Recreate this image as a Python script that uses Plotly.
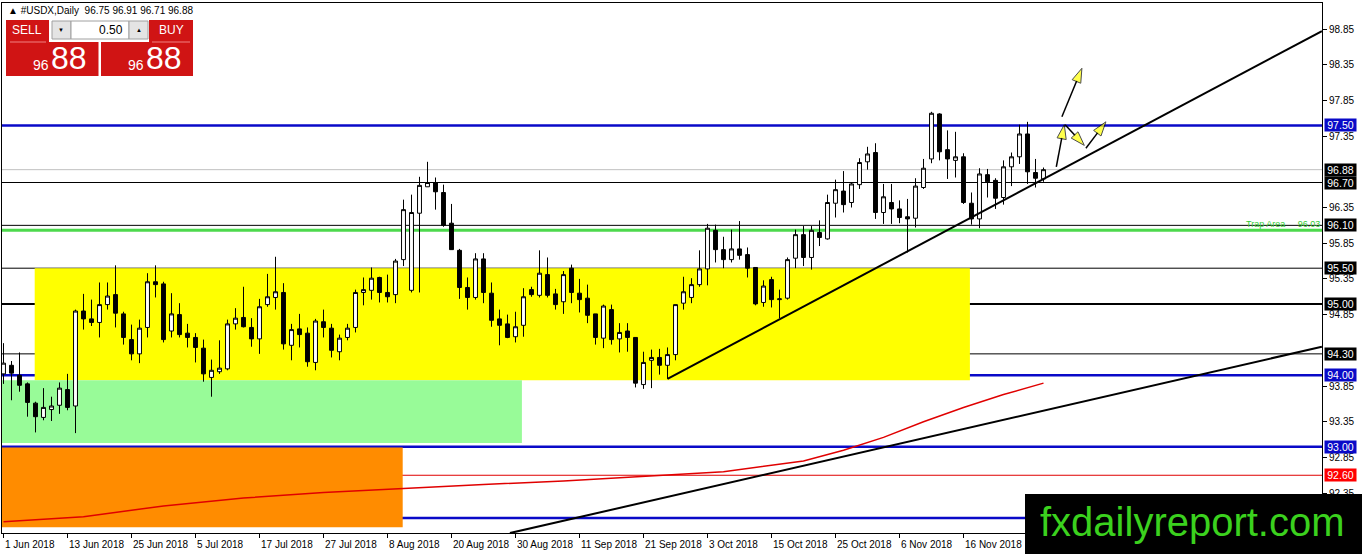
import plotly.graph_objects as go
import pandas as pd

# daily bars, 1 Jun 2018 .. 30 Nov 2018 (trading days)
dates = pd.bdate_range("2018-06-01", "2018-11-30").strftime("%d %b %Y").tolist()

opens = [94.02, 94.14, 94.00, 93.88, 93.61, 93.41, 93.52, 93.58, 93.80, 93.57,
         94.90, 94.79, 94.74, 94.99, 95.13, 94.86, 94.50, 94.30, 94.67, 95.31,
         95.28, 94.62, 94.85, 94.59, 94.53, 94.38, 93.97, 94.05, 94.09, 94.72,
         94.81, 94.67, 94.51, 94.99, 95.09, 95.16, 94.42, 94.65, 94.59, 94.18,
         94.75, 94.66, 94.33, 94.53, 94.67, 95.16, 95.19, 95.37, 95.16, 95.13,
         95.62, 95.19, 96.27, 96.64, 96.70, 96.56, 96.13, 95.75, 95.23, 95.09,
         95.63, 95.15, 94.79, 94.72, 94.54, 94.70, 95.20, 95.12, 95.41, 95.14,
         95.03, 95.50, 95.15, 95.08, 94.86, 94.52, 94.92, 94.51, 94.62, 94.53,
         93.87, 94.21, 94.25, 94.14, 94.29, 95.01, 95.09, 95.27, 95.49, 96.03,
         95.76, 95.62, 95.77, 95.69, 95.51, 95.02, 95.34, 95.06, 95.08, 95.64,
         95.97, 95.65, 96.00, 95.91, 96.41, 96.58, 96.42, 96.67, 96.99, 97.12,
         96.28, 96.42, 96.33, 96.22, 96.20, 96.63, 97.03, 97.66, 97.16, 97.01,
         97.06, 96.41, 96.19, 96.81, 96.73, 96.49, 96.92, 97.06, 97.38, 96.84,
         96.75]
highs = [94.45, 94.20, 94.32, 93.90, 93.63, 93.82, 93.70, 93.90, 94.02, 94.92,
         95.14, 95.06, 95.30, 95.30, 95.54, 94.89, 94.71, 94.78, 95.43, 95.54,
         95.31, 95.15, 95.01, 94.72, 94.59, 94.50, 94.22, 94.49, 94.78, 94.94,
         95.24, 94.80, 95.07, 95.42, 95.66, 95.29, 94.72, 94.86, 94.67, 94.79,
         94.92, 94.72, 94.57, 94.72, 95.20, 95.37, 95.51, 95.38, 95.41, 95.63,
         96.46, 96.53, 96.78, 96.99, 96.77, 96.67, 96.40, 95.77, 95.37, 95.71,
         95.71, 95.30, 94.92, 94.85, 94.89, 95.22, 95.24, 95.75, 95.65, 95.21,
         95.46, 95.55, 95.35, 95.27, 94.86, 94.99, 94.99, 94.73, 94.73, 94.53,
         94.33, 94.36, 94.37, 94.39, 94.99, 95.38, 95.36, 95.75, 96.12, 96.11,
         95.94, 96.04, 96.16, 95.79, 95.51, 95.33, 95.38, 95.20, 95.65, 96.04,
         96.09, 96.09, 96.17, 96.53, 96.74, 96.86, 96.70, 97.04, 97.20, 97.25,
         96.68, 96.68, 96.45, 96.47, 96.76, 97.03, 97.69, 97.67, 97.43, 97.41,
         97.11, 96.56, 96.90, 96.89, 96.76, 97.01, 97.12, 97.51, 97.55, 97.03,
         96.91]
lows = [93.88, 93.65, 93.77, 93.42, 93.20, 93.37, 93.36, 93.46, 93.51, 93.19,
        94.64, 94.69, 94.53, 94.92, 94.67, 94.43, 94.21, 94.17, 94.53, 95.09,
        94.46, 94.53, 94.53, 94.39, 94.18, 93.91, 93.70, 94.02, 94.07, 94.64,
        94.67, 94.40, 94.30, 94.96, 94.92, 94.36, 94.21, 94.39, 94.12, 94.07,
        94.53, 94.25, 94.21, 94.49, 94.60, 94.98, 95.06, 95.02, 95.02, 95.01,
        95.53, 95.16, 95.16, 96.64, 96.32, 96.08, 95.76, 95.07, 94.92, 95.06,
        95.01, 94.68, 94.42, 94.52, 94.46, 94.54, 95.10, 95.09, 95.09, 94.92,
        94.86, 95.01, 94.88, 94.73, 94.43, 94.38, 94.43, 94.32, 94.33, 93.83,
        93.81, 93.82, 94.01, 93.95, 94.21, 94.92, 95.01, 95.24, 95.26, 95.58,
        95.50, 95.58, 95.62, 95.37, 94.98, 94.96, 94.95, 94.80, 95.06, 95.50,
        95.53, 95.48, 95.81, 95.90, 96.21, 96.28, 96.35, 96.61, 96.88, 96.19,
        96.12, 96.12, 96.13, 95.72, 96.07, 96.61, 96.97, 97.01, 96.75, 96.77,
        96.40, 96.11, 96.06, 96.49, 96.33, 96.39, 96.65, 96.96, 96.68, 96.63,
        96.71]
closes = [94.17, 94.03, 93.86, 93.62, 93.42, 93.55, 93.57, 93.82, 93.55, 94.90,
          94.79, 94.74, 94.99, 95.11, 94.87, 94.53, 94.30, 94.66, 95.31, 95.27,
          94.50, 94.86, 94.57, 94.53, 94.39, 94.02, 94.07, 94.10, 94.72, 94.80,
          94.68, 94.51, 94.96, 95.10, 95.17, 94.44, 94.64, 94.57, 94.19, 94.76,
          94.67, 94.35, 94.52, 94.66, 95.16, 95.20, 95.36, 95.16, 95.10, 95.60,
          96.32, 96.28, 96.66, 96.70, 96.57, 96.10, 95.76, 95.23, 95.09, 95.63,
          95.16, 94.77, 94.70, 94.53, 94.68, 95.10, 95.13, 95.43, 95.12, 94.99,
          95.41, 95.16, 95.06, 94.84, 94.53, 94.97, 94.50, 94.60, 94.53, 93.89,
          94.18, 94.25, 94.14, 94.29, 94.99, 95.17, 95.27, 95.49, 96.06, 95.76,
          95.62, 95.77, 95.68, 95.50, 95.00, 95.25, 95.06, 95.07, 95.62, 95.97,
          95.65, 96.03, 95.93, 96.42, 96.60, 96.39, 96.68, 96.98, 97.10, 96.28,
          96.50, 96.33, 96.21, 96.19, 96.65, 96.90, 97.67, 97.13, 97.03, 97.06,
          96.42, 96.19, 96.82, 96.71, 96.48, 96.92, 97.06, 97.38, 96.85, 96.76,
          96.88]
bar_idx = list(range(len(closes)))

# slow moving average (red), read at a few bars
ma_idx = [0, 10, 20, 30, 40, 50, 60, 70, 80, 90, 100, 105, 110, 115, 120, 125, 130]
ma_val = [91.95, 92.02, 92.17, 92.28, 92.36, 92.42, 92.47, 92.52, 92.58, 92.65,
          92.80, 92.95, 93.13, 93.35, 93.55, 93.73, 93.89]

# date labels on the time axis
label_idx = [0, 8, 16, 24, 32, 40, 48, 56, 64, 72, 80, 88, 96, 104, 112, 120]
label_txt = ["1 Jun 2018", "13 Jun 2018", "25 Jun 2018", "5 Jul 2018", "17 Jul 2018",
             "27 Jul 2018", "8 Aug 2018", "20 Aug 2018", "30 Aug 2018", "11 Sep 2018",
             "21 Sep 2018", "3 Oct 2018", "15 Oct 2018", "25 Oct 2018", "6 Nov 2018",
             "16 Nov 2018"]
# price scale labels that are not hidden behind the level boxes
y_ticks = [98.85, 98.35, 97.85, 97.35, 96.35, 95.85, 95.35, 94.85,
           93.85, 93.35, 92.85, 92.35]

# horizontal levels: price, colour, width, label background
levels = [97.50, 96.88, 96.70, 96.10, 95.50, 95.00, 94.30, 94.00, 93.00, 92.60, 92.00]
level_color = ["#0a0ac8", "#c0c0c0", "black", "black", "black", "black", "black",
               "#0a0ac8", "#0a0ac8", "#e00000", "#0a0ac8"]
level_width = [2.5, 1, 1, 1, 1, 2, 1, 2.5, 2.5, 1, 2.5]
level_box = ["#0a0ac8", "black", "black", "black", "black", "black", "black",
             "#0a0ac8", "#0a0ac8", "#ff0000", None]
trap_level = 96.03

# trend lines (bar index, price)
trend_a = ([83, 164.8], [93.95, 98.82])
trend_b = ([63.3, 164.8], [91.79, 94.40])

# zones
zones = [  # x0, x1, y0, y1, colour
    (3.9, 120.8, 93.93, 95.50, "#ffff00"),
    (-0.3, 64.8, 93.05, 93.93, "#98fb98"),
    (-0.3, 49.9, 91.87, 92.99, "#ff8c00"),
]

# hand-drawn arrows
arrows = [
    ([131.6, 132.6], [96.92, 97.51]),
    ([132.3, 134.8], [97.62, 98.30]),
    ([132.7, 135.1], [97.51, 97.22]),
    ([135.3, 137.8], [97.18, 97.55]),
]

W, H = 1362, 554
L, R, T, B = 2, 1322, 3, 533


def px(x):
    return (x - L) / (R - L)


def py(y):
    return (B - y) / (B - T)


fig = go.Figure()

for x0, x1, y0, y1, c in zones:
    fig.add_shape(type="rect", x0=x0, x1=x1, y0=y0, y1=y1, fillcolor=c,
                  line=dict(width=0), layer="below")

for lv, c, w in zip(levels, level_color, level_width):
    fig.add_shape(type="line", xref="paper", x0=0, x1=1, y0=lv, y1=lv,
                  line=dict(color=c, width=w), layer="below")
fig.add_shape(type="line", xref="paper", x0=0, x1=1, y0=trap_level, y1=trap_level,
              line=dict(color="#4cd94c", width=3), layer="below")

fig.add_trace(go.Scatter(x=ma_idx, y=ma_val, mode="lines",
                         line=dict(color="#e00000", width=1.5), hoverinfo="skip"))

fig.add_trace(go.Candlestick(
    x=bar_idx, open=opens, high=highs, low=lows, close=closes,
    text=dates, hoverinfo="text+x",
    increasing=dict(line=dict(color="black", width=1), fillcolor="white"),
    decreasing=dict(line=dict(color="black", width=1), fillcolor="black"),
    whiskerwidth=0,
))

for xs, ys in (trend_a, trend_b):
    fig.add_trace(go.Scatter(x=xs, y=ys, mode="lines",
                             line=dict(color="black", width=2), hoverinfo="skip"))

for xs, ys in arrows:
    fig.add_trace(go.Scatter(
        x=xs, y=ys, mode="lines+markers", hoverinfo="skip",
        line=dict(color="black", width=1.5),
        marker=dict(symbol="arrow", angleref="previous", size=[0, 15],
                    color="#ffff00", line=dict(color="black", width=1)),
    ))

ann = []
# price labels on the right scale
for lv, bc in zip(levels, level_box):
    if bc is None:
        continue
    ann.append(dict(xref="paper", yref="y", x=px(1324), y=lv, xanchor="left",
                    yanchor="middle", text=f"{lv:.2f}", showarrow=False,
                    bgcolor=bc, borderpad=0, width=31, height=12, align="center",
                    font=dict(color="white", size=10.5, family="Liberation Sans")))
ann.append(dict(xref="paper", yref="y", x=1.0, y=trap_level, xanchor="right",
                yanchor="bottom", text="Trap Area     96.03", showarrow=False,
                yshift=-1, font=dict(color="#33cc33", size=9, family="Liberation Sans")))
# date labels, left aligned at their ticks
for i, t in zip(label_idx, label_txt):
    ann.append(dict(xref="x", yref="paper", x=i, y=py(537), xanchor="left",
                    yanchor="top", text=t, showarrow=False, xshift=-1,
                    font=dict(color="black", size=10, family="Liberation Sans")))

# header and one-click trading panel
ann.append(dict(xref="paper", yref="paper", x=px(6), y=py(11), xanchor="left",
                yanchor="middle", showarrow=False,
                text="\u25b2 #USDX,Daily  96.75 96.91 96.71 96.88",
                font=dict(color="black", size=10, family="Liberation Sans")))

red = "#d01414"
panel_rects = [
    (6, 49, 20, 42, red, None), (6, 99, 42, 76, red, None),
    (149, 193, 20, 42, red, None), (101, 193, 42, 76, red, None),
    (52, 71, 21, 39, "#e4e4e4", "#a0a0a0"), (71, 129, 21, 39, "white", "#a0a0a0"),
    (129, 148, 21, 39, "#e4e4e4", "#a0a0a0"),
]
for x0, x1, y0, y1, c, lc in panel_rects:
    fig.add_shape(type="rect", xref="paper", yref="paper", x0=px(x0), x1=px(x1),
                  y0=py(y1), y1=py(y0), fillcolor=c, layer="above",
                  line=dict(width=1 if lc else 0, color=lc or c))
for x0, x1 in ((10, 46), (152, 190)):
    fig.add_shape(type="line", xref="paper", yref="paper", x0=px(x0), x1=px(x1),
                  y0=py(42), y1=py(42), line=dict(color="#f08080", width=1), layer="above")
fig.add_shape(type="line", xref="paper", yref="paper", x0=px(99.5), x1=px(99.5),
              y0=py(76), y1=py(42), line=dict(color="white", width=2), layer="above")

panel_text = [
    (27, 30, "SELL", 12, "white"), (171, 30, "BUY", 12, "white"),
    (61, 30, "\u25bc", 6, "black"), (139, 30, "\u25b2", 6, "black"),
    (41, 65, "96", 14, "white"), (69, 58, "88", 32, "white"),
    (136, 65, "96", 14, "white"), (164, 58, "88", 32, "white"),
]
for x, y, t, s, c in panel_text:
    ann.append(dict(xref="paper", yref="paper", x=px(x), y=py(y), xanchor="center",
                    yanchor="middle", text=t, showarrow=False,
                    font=dict(color=c, size=s, family="Liberation Sans")))
ann.append(dict(xref="paper", yref="paper", x=px(125), y=py(30), xanchor="right",
                yanchor="middle", text="0.50", showarrow=False,
                font=dict(color="black", size=12, family="Liberation Sans")))

# watermark
fig.add_shape(type="rect", xref="paper", yref="paper", x0=px(1025), x1=px(1363),
              y0=py(555), y1=py(494), fillcolor="black", line=dict(width=0), layer="above")
ann.append(dict(xref="paper", yref="paper", x=px(1192), y=py(522), xanchor="center",
                yanchor="middle", text="fxdailyreport.com", showarrow=False,
                font=dict(color="#3bd11e", size=40, family="Liberation Sans")))

fig.update_layout(
    width=W, height=H, autosize=False,
    margin=dict(l=L, r=W - R, t=T, b=H - B),
    paper_bgcolor="white", plot_bgcolor="white",
    showlegend=False, annotations=ann,
    xaxis=dict(range=[(L - 3.5) / 8, (R - 3.5) / 8], rangeslider=dict(visible=False),
               showgrid=False, zeroline=False, showline=True, mirror=True,
               linecolor="black", linewidth=1, ticks="outside", ticklen=4,
               tickcolor="black", tickvals=label_idx, showticklabels=False),
    yaxis=dict(range=[98.85 - (B - 29) / 71.4, 98.85 + (29 - T) / 71.4], side="right",
               showgrid=False, zeroline=False, showline=True, mirror=True,
               linecolor="black", linewidth=1, ticks="outside", ticklen=4,
               tickcolor="black", tickvals=y_ticks, ticktext=[f"{v:.2f}" for v in y_ticks],
               tickfont=dict(color="black", size=10, family="Liberation Sans")),
)

fig.write_html("out.html", config={"displayModeBar": False},
               post_script="document.body.style.margin='0';document.body.style.overflow='hidden';")
